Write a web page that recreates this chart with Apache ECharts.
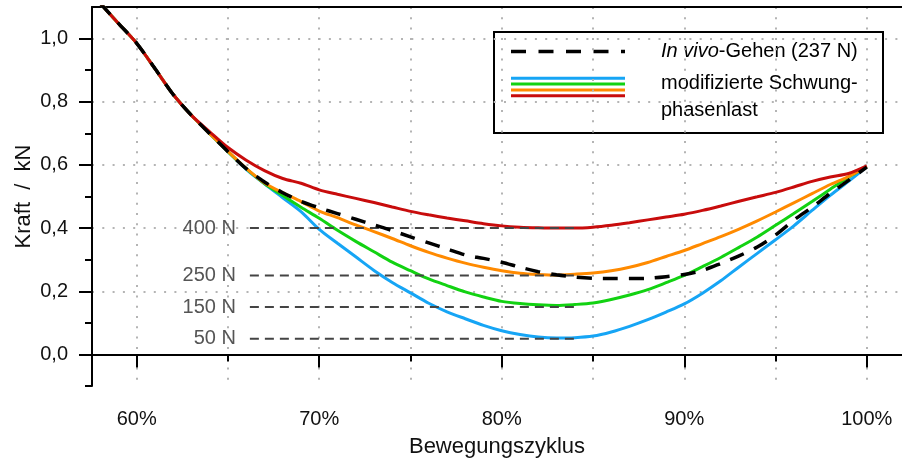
<!DOCTYPE html>
<html>
<head>
<meta charset="utf-8">
<script src="https://cdn.jsdelivr.net/npm/echarts@6/dist/echarts.min.js"></script>
<style>
html,body{margin:0;padding:0;background:#fff;}
#chart{width:902px;height:461px;}
</style>
</head>
<body>
<div id="chart"></div>
<script>
// ---- data ----
const xPct = [58,59,60,61,62,63,64,65,66,67,68,69,70,71,72,73,74,75,76,77,78,79,80,81,82,83,84,85,86,87,88,89,90,91,92,93,94,95,96,97,98,99,100];

const blue   = [1.112,1.048,0.985,0.905,0.823,0.757,0.699,0.642,0.586,0.540,0.496,0.452,0.396,0.352,0.309,0.266,0.228,0.195,0.162,0.135,0.113,0.092,0.075,0.063,0.055,0.052,0.053,0.058,0.071,0.089,0.110,0.134,0.160,0.194,0.233,0.277,0.320,0.363,0.407,0.456,0.504,0.548,0.594];
const green  = [1.112,1.048,0.985,0.905,0.823,0.757,0.699,0.642,0.588,0.541,0.503,0.466,0.431,0.393,0.358,0.325,0.292,0.265,0.239,0.218,0.198,0.182,0.168,0.161,0.157,0.155,0.158,0.163,0.174,0.188,0.205,0.227,0.250,0.278,0.307,0.339,0.372,0.409,0.446,0.484,0.523,0.561,0.594];
const orange = [1.112,1.048,0.985,0.905,0.823,0.757,0.699,0.643,0.589,0.543,0.512,0.484,0.454,0.433,0.410,0.389,0.367,0.344,0.323,0.305,0.289,0.276,0.265,0.257,0.253,0.251,0.254,0.258,0.265,0.276,0.291,0.310,0.329,0.351,0.373,0.397,0.423,0.451,0.480,0.509,0.538,0.563,0.594];
const red    = [1.112,1.048,0.985,0.905,0.823,0.757,0.705,0.655,0.615,0.582,0.557,0.542,0.521,0.507,0.494,0.481,0.467,0.453,0.442,0.432,0.423,0.414,0.407,0.403,0.401,0.400,0.400,0.403,0.409,0.417,0.426,0.435,0.444,0.456,0.470,0.485,0.499,0.513,0.530,0.548,0.562,0.573,0.597];
const inVivo = [1.112,1.048,0.985,0.905,0.823,0.757,0.699,0.642,0.588,0.546,0.512,0.485,0.464,0.446,0.428,0.410,0.392,0.372,0.353,0.334,0.315,0.304,0.292,0.276,0.262,0.252,0.245,0.241,0.240,0.240,0.241,0.246,0.253,0.266,0.288,0.312,0.340,0.378,0.425,0.466,0.510,0.551,0.593];

// reference load levels
const refLevels = [0.40, 0.25, 0.15, 0.05];
const refLabels = ['400 N', '250 N', '150 N', '50 N'];
const refRange  = [66.2, 84.0];

// axes
const xRange = [57.55, 101.93];
const yRange = [-0.1, 1.1];
const xMajorTicks = [60, 70, 80, 90, 100];
const xGridTicks  = [60, 65, 70, 75, 80, 85, 90, 95, 100];
const yMajorTicks = [0, 0.2, 0.4, 0.6, 0.8, 1.0];
const yMinorTicks = [-0.1, 0.1, 0.3, 0.5, 0.7, 0.9];

const xTitle = 'Bewegungszyklus';
const yTitle = 'Kraft  /  kN';
const legendVivoItalic = 'In vivo';
const legendVivoRest = '-Gehen (237 N)';
const legendModLines = ['modifizierte Schwung-', 'phasenlast'];

const colors = {blue:'#16a5f5', green:'#12d212', orange:'#ff8a00', red:'#c80c0c', black:'#000000'};
const FONT = '"Liberation Sans", Arial, Helvetica, sans-serif';

// ---- chart ----
const chart = echarts.init(document.getElementById('chart'), null, {renderer:'canvas'});

function pairs(ys){ return xPct.map((x,i)=>[x, ys[i]]); }
function curve(name, ys, color, extra){
  return Object.assign({
    type:'line', name, data: pairs(ys), xAxisIndex:0, yAxisIndex:0,
    showSymbol:false, symbol:'none', smooth:0.3,
    lineStyle:{color, width:3}, z:3, silent:true
  }, extra||{});
}

const refSeries = refLevels.map((lvl, i) => ({
  type:'line', xAxisIndex:0, yAxisIndex:0, silent:true, z:4,
  symbol:'circle', symbolSize:0, showSymbol:true,
  lineStyle:{color:'#444', width:2, type:[9,6]},
  itemStyle:{color:'#444'},
  data:[
    {value:[refRange[0], lvl], label:{show:true, position:'left', distance:14, formatter:refLabels[i],
      color:'#555', fontSize:20, fontFamily:FONT}},
    {value:[refRange[1], lvl], label:{show:false}}
  ]
}));

const axisBlack = {show:true, lineStyle:{color:'#000', width:2}};
const gridLine = {show:true, lineStyle:{color:'#b4b4b4', width:2, type:[2,8.3]}};

const option = {
  animation:false,
  backgroundColor:'#fff',
  textStyle:{fontFamily:FONT},
  grid:{left:92, right:0, top:7, bottom:75, containLabel:false, outerBoundsMode:'none'},
  xAxis:[
    {type:'value', position:'bottom', min:xRange[0], max:xRange[1], interval:5,
     axisLine:axisBlack,
     axisTick:{show:true, customValues:xGridTicks, length:7, lineStyle:{color:'#000', width:2}},
     axisLabel:{show:false},
     splitLine:gridLine,
     name:xTitle, nameLocation:'middle', nameGap:50,
     nameTextStyle:{fontSize:22, color:'#111', fontFamily:FONT}},
    {type:'value', position:'bottom', min:xRange[0], max:xRange[1], interval:10,
     axisLine:{show:false},
     axisTick:{show:true, customValues:xMajorTicks, length:13, lineStyle:{color:'#000', width:2}},
     axisLabel:{show:true, customValues:xMajorTicks, formatter:v=>v+'%', fontSize:20, color:'#111',
       margin:23, fontFamily:FONT},
     splitLine:{show:false}},
    {type:'value', position:'top', min:xRange[0], max:xRange[1],
     axisLine:axisBlack, axisTick:{show:false}, axisLabel:{show:false}, splitLine:{show:false}}
  ],
  yAxis:[
    {type:'value', position:'left', min:yRange[0], max:yRange[1], interval:0.2,
     axisLine:axisBlack,
     axisTick:{show:true, customValues:yMinorTicks, length:7, lineStyle:{color:'#000', width:2}},
     axisLabel:{show:false},
     splitLine:{show:false},
     name:yTitle, nameLocation:'middle', nameGap:57,
     nameTextStyle:{fontSize:22, color:'#111', fontFamily:FONT}},
    {type:'value', position:'left', min:yRange[0], max:yRange[1], interval:0.2,
     axisLine:{show:false},
     axisTick:{show:true, customValues:yMajorTicks, length:13, lineStyle:{color:'#000', width:2}},
     axisLabel:{show:true, customValues:yMajorTicks, formatter:v=>v.toFixed(1).replace('.', ','),
       fontSize:20, color:'#111', margin:24, fontFamily:FONT},
     splitLine:gridLine}
  ],
  series:[
    curve('blue', blue, colors.blue),
    curve('green', green, colors.green),
    curve('orange', orange, colors.orange),
    curve('red', red, colors.red),
    ...refSeries,
    curve('In vivo', inVivo, colors.black, {lineStyle:{color:'#000', width:3.5, type:[15,11]}, z:5})
  ],
  graphic:[
    {type:'group', left:493, top:31, z:100, children:[
      {type:'rect', shape:{x:0, y:0, width:389, height:101}, style:{fill:'#fff', stroke:'#000', lineWidth:2}},
      {type:'line', shape:{x1:17, y1:19.5, x2:131, y2:19.5}, style:{stroke:'#000', lineWidth:3.5, lineDash:[15,12.5]}},
      {type:'line', shape:{x1:17, y1:46.3, x2:131, y2:46.3}, style:{stroke:colors.blue, lineWidth:3}},
      {type:'line', shape:{x1:17, y1:52, x2:131, y2:52}, style:{stroke:colors.green, lineWidth:3}},
      {type:'line', shape:{x1:17, y1:58, x2:131, y2:58}, style:{stroke:colors.orange, lineWidth:3}},
      {type:'line', shape:{x1:17, y1:63.7, x2:131, y2:63.7}, style:{stroke:colors.red, lineWidth:3}},
      {type:'text', x:167, y:19.5, style:{text:'{i|'+legendVivoItalic+'}'+legendVivoRest, fill:'#000',
        font:'20px '+FONT, verticalAlign:'middle', align:'left',
        rich:{i:{fontStyle:'italic', fontSize:20, fontFamily:FONT, fill:'#000'}}}},
      {type:'text', x:167, y:51.3, style:{text:legendModLines[0], fill:'#000', font:'20px '+FONT, verticalAlign:'middle', align:'left'}},
      {type:'text', x:167, y:78.7, style:{text:legendModLines[1], fill:'#000', font:'20px '+FONT, verticalAlign:'middle', align:'left'}}
    ]}
  ]
};
chart.setOption(option);
</script>
</body>
</html>
